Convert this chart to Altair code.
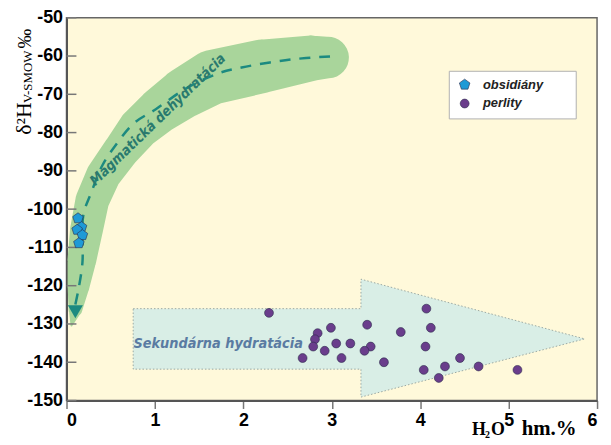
import altair as alt
import pandas as pd

# ---------------- data ----------------
types = ["obsidiány", "perlity"]

obsid_x = [0.13, 0.17, 0.12, 0.18, 0.14]
obsid_y = [-102.4, -104.7, -105.4, -106.8, -108.9]

perlit_x = [2.29, 4.07, 3.40, 2.99, 4.12, 3.78, 2.84, 2.81, 2.79, 3.05, 3.21, 2.92,
            3.44, 3.37, 4.06, 2.67, 3.11, 3.59, 4.45, 4.04, 4.28, 4.66, 5.10, 4.21]
perlit_y = [-127.1, -126.0, -130.2, -131.0, -131.0, -132.1, -132.4, -134.0, -135.9, -135.1,
            -135.1, -137.0, -135.9, -137.0, -135.9, -138.9, -138.9, -140.0, -138.9, -142.0,
            -141.1, -141.1, -142.0, -144.1]

# green band (magmatic dehydration) centre line and width
band_x = [0.056, 0.101, 0.135, 0.174, 0.225, 0.292, 0.416, 0.619, 0.821, 1.057, 1.327, 1.642, 2.205, 2.767, 2.958]
band_y = [-130.4, -126.2, -120.3, -113.3, -105.5, -97.7, -91.2, -84.7, -78.8, -74.1, -69.7, -65.6, -62.7, -60.6, -60.4]
band_w = [2, 14, 22, 29, 33, 34, 35, 37, 42, 46, 51, 55, 54, 46, 42]

# dashed trend line inside the band
dash_x = [2.98, 2.54, 1.98, 1.72, 1.35, 1.01, 0.765, 0.574, 0.405, 0.281, 0.19, 0.18, 0.135, 0.10]
dash_y = [-60.1, -60.9, -63.0, -64.5, -68.5, -73.9, -77.5, -82.7, -88.6, -95.6, -101.6, -114.0, -121.0, -124.9]
arrow_tip_x = [0.10]
arrow_tip_y = [-126.8]

# big arrow (secondary hydration): body and head
body_x = [0.754]
body_x2 = [3.33]
body_top = [-126.0]
body_bot = [-141.8]
head_x = [3.33, 5.86]
head_top = [-118.3, -133.9]
head_bot = [-149.1, -133.9]
outline_x = [0.754, 3.33, 3.33, 5.86, 3.33, 3.33, 0.754, 0.754]
outline_y = [-126.0, -126.0, -118.3, -133.9, -149.1, -141.8, -141.8, -126.0]

x_ticks = [0, 1, 2, 3, 4, 5, 6]
y_ticks = [-150, -140, -130, -120, -110, -100, -90, -80, -70, -60, -50]

# ---------------- tables ----------------
pts = pd.DataFrame({
    "x": obsid_x + perlit_x,
    "y": obsid_y + perlit_y,
    "type": [types[0]] * len(obsid_x) + [types[1]] * len(perlit_x),
})
band = pd.DataFrame({"x": band_x, "y": band_y, "w": band_w, "i": range(len(band_x))})
dash = pd.DataFrame({"x": dash_x, "y": dash_y, "i": range(len(dash_x))})
tip = pd.DataFrame({"x": arrow_tip_x, "y": arrow_tip_y})
body = pd.DataFrame({"x": body_x, "x2": body_x2, "top": body_top, "bot": body_bot})
head = pd.DataFrame({"x": head_x, "top": head_top, "bot": head_bot})
outline = pd.DataFrame({"x": outline_x, "y": outline_y, "i": range(len(outline_x))})
yt = pd.DataFrame({"y": y_ticks})

xs = alt.Scale(domain=[0, 6], nice=False, zero=False)
ys = alt.Scale(domain=[-150, -50], nice=False, zero=False)

LBL = "Liberation Sans"
NARROW = "Liberation Sans Narrow, DejaVu Sans Condensed, Liberation Sans"
SERIF = "Liberation Serif, DejaVu Serif"

x_axis = alt.Axis(values=x_ticks, grid=False, tickSize=8, tickColor="#777", tickWidth=1.5,
                  domainColor="#555", domainWidth=2, labelFont=LBL, labelFontSize=18,
                  labelFontWeight="bold", labelColor="black", labelPadding=3, title=None,
                  labelExpr="datum.value")
y_axis = alt.Axis(values=y_ticks, grid=False, ticks=False, domainColor="#555", domainWidth=2,
                  labelFont=LBL, labelFontSize=18, labelFontWeight="bold", labelColor="black",
                  labelPadding=4, title=None, labelExpr="datum.value")


def X(field="x"):
    return alt.X(f"{field}:Q", scale=xs, axis=x_axis, title=None)


def Y(field="y"):
    return alt.Y(f"{field}:Q", scale=ys, axis=y_axis, title=None)


band_layer = alt.Chart(band).mark_trail(color="#A9D59B", clip=True).encode(
    x=X(), y=Y(),
    size=alt.Size("w:Q", scale=None, legend=None),
    order=alt.Order("i:Q"),
)

dash_layer = alt.Chart(dash).mark_line(color="#1C8A80", strokeWidth=2.5, strokeDash=[11, 9],
                                       interpolate="catmull-rom").encode(
    x=X(), y=Y(), order=alt.Order("i:Q"),
)

tip_layer = alt.Chart(tip).mark_point(shape="triangle-down", filled=True, size=230,
                                      color="#1C8A80", opacity=1).encode(x=X(), y=Y())

magma_text = alt.Chart(pd.DataFrame({"x": [1.035], "y": [-76.7], "t": ["Magmatická dehydratácia"]})).mark_text(
    angle=316, font=NARROW, fontSize=14, fontStyle="italic", fontWeight="bold", color="#2A7A6E",
    align="center", baseline="middle").encode(x=X(), y=Y(), text="t:N")

body_layer = alt.Chart(body).mark_rect(color="#D9EEE6", opacity=1).encode(
    x=X(), x2="x2:Q", y=Y("top"), y2="bot:Q",
)
head_layer = alt.Chart(head).mark_area(color="#D9EEE6", opacity=1).encode(
    x=X(), y=Y("top"), y2="bot:Q",
)
outline_layer = alt.Chart(outline).mark_line(color="#9aa8a3", strokeWidth=1, strokeDash=[1.5, 2]).encode(
    x=X(), y=Y(), order=alt.Order("i:Q"),
)

sek_text = alt.Chart(pd.DataFrame({"x": [1.715], "y": [-135.3], "t": ["Sekundárna hydratácia"]})).mark_text(
    font=NARROW, fontSize=14.5, fontStyle="italic", fontWeight="bold", color="#5A7BA2",
    align="center", baseline="middle").encode(x=X(), y=Y(), text="t:N")

ytick_layer = alt.Chart(yt).mark_rule(color="#777", strokeWidth=1.5).encode(
    y=Y(), x=alt.value(0), x2=alt.value(10),
)

# legend frame (drawn as a box behind the legend entries)
legend_box = alt.Chart(pd.DataFrame({"k": [0]})).mark_rect(
    fill="white", stroke="#b0b0b0", strokeWidth=1).encode(
    x=alt.value(386), x2=alt.value(514), y=alt.value(54), y2=alt.value(102),
)

pentagon = "M0,-1.25L1.189,-0.386L0.735,1.011L-0.735,1.011L-1.189,-0.386Z"
leg = alt.Legend(orient="none", legendX=388, legendY=54, title=None,
                 padding=7, labelFont=LBL, labelFontStyle="italic",
                 labelFontWeight="bold", labelFontSize=13, labelColor="#222", symbolSize=80,
                 rowPadding=5, labelOffset=12, symbolStrokeWidth=0.6)

pts_layer = alt.Chart(pts).mark_point(filled=True, opacity=1, size=80, stroke="#2b2b4b",
                                      strokeWidth=0.6).encode(
    x=X(), y=Y(),
    color=alt.Color("type:N", scale=alt.Scale(domain=types, range=["#1E9AD6", "#6A3D8C"]), legend=leg),
    shape=alt.Shape("type:N", scale=alt.Scale(domain=types, range=[pentagon, "circle"]), legend=leg),
)


def label(text, x, y, size, font=SERIF, weight="normal", angle=0, align="left", baseline="alphabetic"):
    return alt.Chart(pd.DataFrame({"t": [text]})).mark_text(
        font=font, fontSize=size, fontWeight=weight, angle=angle, align=align,
        baseline=baseline, color="black").encode(
        x=alt.value(x), y=alt.value(y), text="t:N")


ytitle = (label("δ²H", -36, 118, 22, angle=270)
          + label("V-SMOW", -35, 86, 13, angle=270)
          + label("‰", -36, 31, 20, angle=270))
xtitle = (label("H", 409, 421, 18, weight="bold")
          + label("2", 422, 424, 10, weight="bold")
          + label("O", 428, 421, 18, weight="bold")
          + label("hm.%", 459, 421, 21, weight="bold"))

chart = alt.layer(
    band_layer, dash_layer, tip_layer, magma_text, body_layer, head_layer, outline_layer,
    sek_text, ytick_layer, legend_box, pts_layer, ytitle, xtitle,
).properties(
    width=535, height=386,
    autosize=alt.AutoSizeParams(type="none"),
    padding={"left": 59, "top": 8, "right": 6, "bottom": 41},
    background="white",
).configure_view(
    fill="#FFF9DA", stroke="#666", strokeWidth=1.5,
)

chart.save("out.html", embed_options={"renderer": "svg", "actions": False})
